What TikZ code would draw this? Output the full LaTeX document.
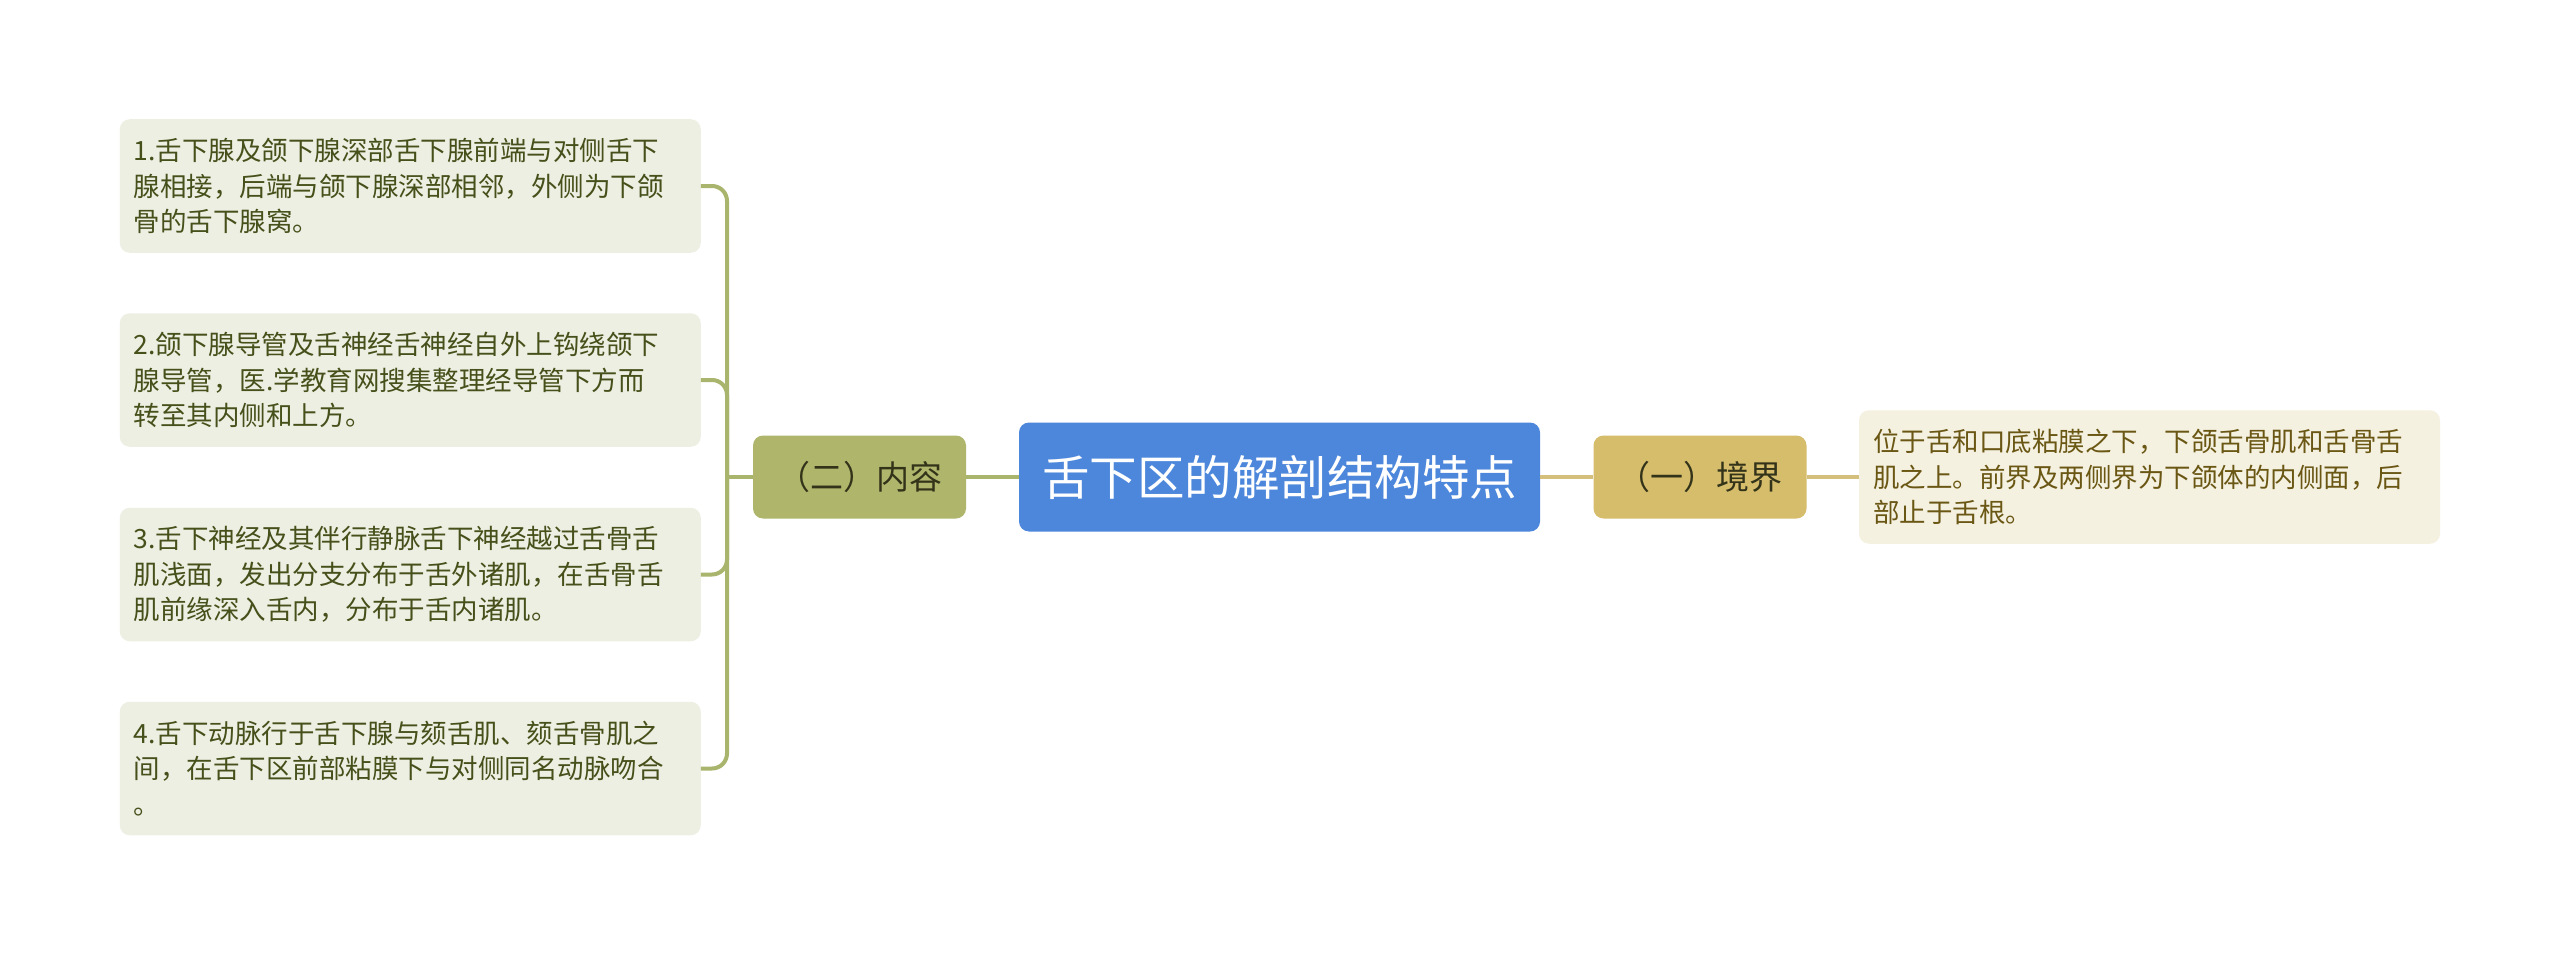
\documentclass[tikz,border=0pt]{standalone}
\usepackage{fontspec}
\setmainfont{Noto Sans CJK SC}
\usetikzlibrary{positioning}
\definecolor{rootblue}{HTML}{4D87DB}
\definecolor{olivebox}{HTML}{AFB66C}
\definecolor{tanbox}{HTML}{D5BD6C}
\definecolor{oliveline}{HTML}{A9B46C}
\definecolor{tanline}{HTML}{D4C07C}
\definecolor{leftfill}{HTML}{EEEFE3}
\definecolor{rightfill}{HTML}{F5F1E1}
\definecolor{lefttext}{HTML}{45501A}
\definecolor{righttext}{HTML}{6A5714}
\definecolor{darktext}{HTML}{33331A}
\tikzset{
  rootnode/.style={fill=rootblue, rounded corners=10pt, minimum width=521pt, minimum height=109pt, text=white, font=\fontsize{47.5}{56}\selectfont, inner sep=0pt},
  topicnode/.style={rounded corners=10pt, minimum width=213pt, minimum height=83pt, text=darktext, font=\fontsize{33}{38}\selectfont, inner sep=0pt},
  leafnode/.style={rounded corners=10pt, text width=553pt, align=left, inner xsep=14pt, inner ysep=0pt, minimum height=133.5pt, font=\fontsize{26.5}{35.5}\selectfont},
  leftleaf/.style={leafnode, fill=leftfill, text=lefttext},
  rightleaf/.style={leafnode, fill=rightfill, text=righttext},
  oline/.style={draw=oliveline, line width=4pt},
  tline/.style={draw=tanline, line width=4pt},
}
\begin{document}
\begin{tikzpicture}[x=1pt,y=-1pt]
\useasboundingbox (0,0) rectangle (2560,955);
\fill[white] (0,0) rectangle (2560,955);

\node[rootnode] (root) at (1279.5,477) {舌下区的解剖结构特点};
\node[topicnode, fill=olivebox] (content) at (859.5,477) {（二）内容};
\node[topicnode, fill=tanbox] (bound) at (1700,477) {（一）境界};

\node[leftleaf] (l1) at (410.25,186) {1.舌下腺及颌下腺深部舌下腺前端与对侧舌下\\腺相接，后端与颌下腺深部相邻，外侧为下颌\\骨的舌下腺窝。};
\node[leftleaf] (l2) at (410.25,380) {2.颌下腺导管及舌神经舌神经自外上钩绕颌下\\腺导管，医.学教育网搜集整理经导管下方而\\转至其内侧和上方。};
\node[leftleaf] (l3) at (410.25,574.5) {3.舌下神经及其伴行静脉舌下神经越过舌骨舌\\肌浅面，发出分支分布于舌外诸肌，在舌骨舌\\肌前缘深入舌内，分布于舌内诸肌。};
\node[leftleaf] (l4) at (410.25,768.5) {4.舌下动脉行于舌下腺与颏舌肌、颏舌骨肌之\\间，在舌下区前部粘膜下与对侧同名动脉吻合\\。};

\node[rightleaf] (r1) at (2149.5,477) {位于舌和口底粘膜之下，下颌舌骨肌和舌骨舌\\肌之上。前界及两侧界为下颌体的内侧面，后\\部止于舌根。};

\coordinate (trunk) at (727,477);
\draw[oline] (root.west) -- (content.east);
\draw[oline] (content.west) -- (trunk);
\foreach \n in {l1,l2,l3,l4}{
  \draw[oline, rounded corners=15pt] (trunk) |- (\n.east);
}
\draw[tline] (root.east) -- (bound.west);
\draw[tline] (bound.east) -- (r1.west);
\end{tikzpicture}
\end{document}
